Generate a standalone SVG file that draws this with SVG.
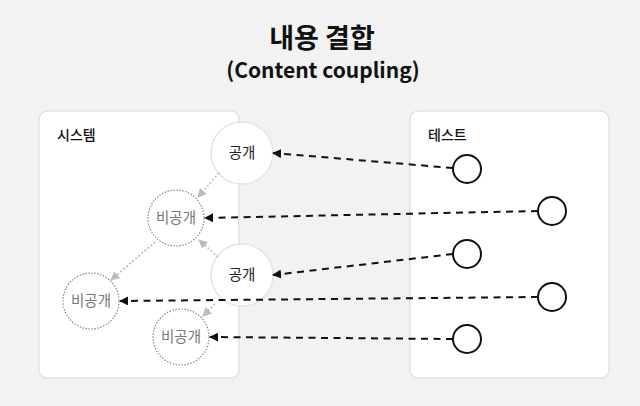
<svg xmlns="http://www.w3.org/2000/svg" width="640" height="406" viewBox="0 0 640 406">
<style>
text{font-family:"Noto Sans CJK KR","Noto Sans",sans-serif;text-anchor:middle}
.title{font-size:27px;font-weight:700;fill:#111}
.sub{font-size:21px;font-weight:700;fill:#111}
.panel{fill:#fff;stroke:#e2e2e2;stroke-width:1.5}
.plabel{font-size:14px;font-weight:500;fill:#111;text-anchor:start}
.pub{fill:#fff;stroke:#e4e4e4;stroke-width:1.5}
.pubt{font-size:14.5px;fill:#222}
.priv{fill:#fff;stroke:#888;stroke-width:1.2;stroke-dasharray:1.5 1.5}
.privt{font-size:14.5px;fill:#777}
.test{fill:#fff;stroke:#111;stroke-width:2}
.call{stroke:#111;stroke-width:2;stroke-dasharray:7 5.5;fill:none;marker-end:url(#ab)}
.dep{stroke:#bbb;stroke-width:1.6;stroke-dasharray:2 2;fill:none;marker-end:url(#ag)}
</style>
<defs>
<marker id="ab" viewBox="0 0 10 10" refX="9" refY="5" markerWidth="9" markerHeight="9" markerUnits="userSpaceOnUse" orient="auto"><path d="M0,0L10,5L0,10Z" fill="#111"/></marker>
<marker id="ag" viewBox="0 0 10 10" refX="9" refY="5" markerWidth="9" markerHeight="9" markerUnits="userSpaceOnUse" orient="auto"><path d="M0,0L10,5L0,10Z" fill="#bbb"/></marker>
</defs>
<rect width="640" height="406" fill="#f2f2f2"/>
<text class="title" x="322" y="48">내용 결합</text>
<text class="sub" x="323" y="78">(Content coupling)</text>
<g id="system"><rect class="panel" x="39" y="111" width="200" height="267" rx="8"/><text class="plabel" x="57" y="140">시스템</text></g>
<g id="test"><rect class="panel" x="410" y="111" width="199" height="267" rx="8"/><text class="plabel" x="428" y="140">테스트</text></g>
<g id="priv1"><circle class="priv" cx="176" cy="218" r="28"/><text class="privt" x="176" y="223">비공개</text></g>
<g id="priv2"><circle class="priv" cx="91" cy="301" r="28"/><text class="privt" x="91" y="306">비공개</text></g>
<g id="priv3"><circle class="priv" cx="181" cy="337" r="28"/><text class="privt" x="181" y="342">비공개</text></g>
<g id="pub1"><circle class="pub" cx="242" cy="153" r="31"/><text class="pubt" x="242" y="158">공개</text></g>
<g id="pub2"><circle class="pub" cx="242" cy="275" r="31"/><text class="pubt" x="242" y="280">공개</text></g>
<g id="t1"><circle class="test" cx="467" cy="169" r="14"/></g>
<g id="t2"><circle class="test" cx="552" cy="211" r="14"/></g>
<g id="t3"><circle class="test" cx="467" cy="254" r="14"/></g>
<g id="t4"><circle class="test" cx="552" cy="297" r="14"/></g>
<g id="t5"><circle class="test" cx="467" cy="339" r="14"/></g>
<g id="connectors">
<line class="dep" x1="219" y1="173" x2="198" y2="197"/>
<line class="dep" x1="218" y1="257" x2="199" y2="240"/>
<line class="dep" x1="155" y1="242" x2="111" y2="280"/>
<line class="dep" x1="215" y1="304" x2="203" y2="316"/>
<line class="call" x1="453" y1="168" x2="273" y2="153"/>
<line class="call" x1="538" y1="211" x2="205" y2="218"/>
<line class="call" x1="453" y1="254" x2="273" y2="275"/>
<line class="call" x1="538" y1="297" x2="120" y2="301"/>
<line class="call" x1="453" y1="339" x2="210" y2="337"/>
</g>
</svg>
